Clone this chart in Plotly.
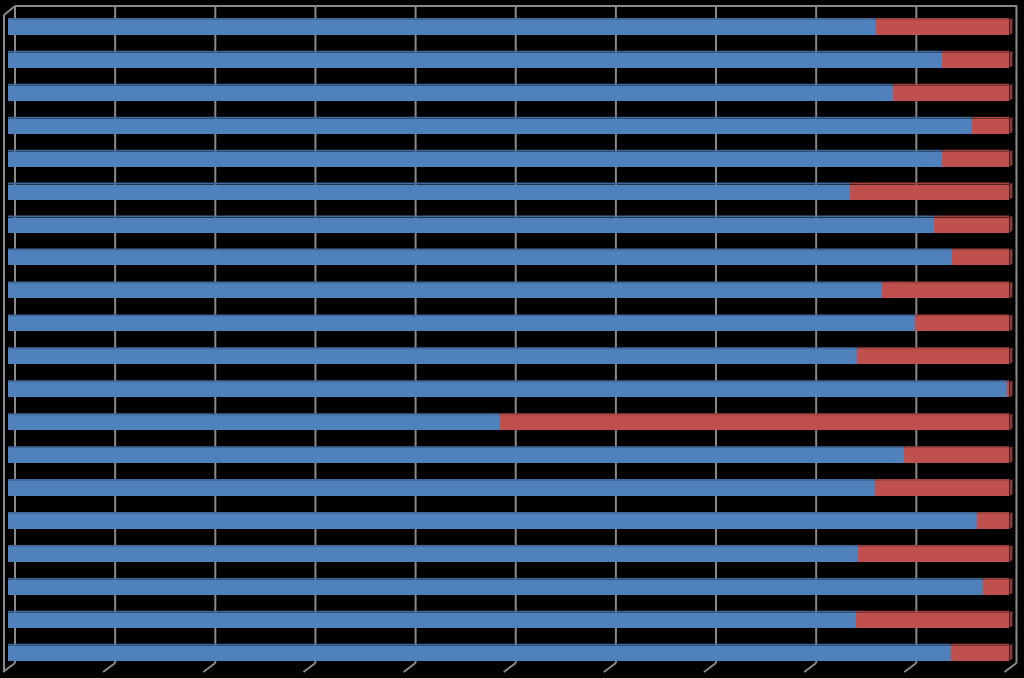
import plotly.graph_objects as go

# 20 rows, read top to bottom; share of each bar in percent
categories = [f"Item {i}" for i in range(1, 21)]
blue_share = [86.7, 93.3, 88.4, 96.3, 93.3, 84.1, 92.5, 94.3, 87.3, 90.6,
              84.8, 99.8, 49.1, 89.5, 86.6, 96.8, 84.9, 97.4, 84.7, 94.2]
red_share = [round(100 - v, 1) for v in blue_share]
grid_ticks = [0, 10, 20, 30, 40, 50, 60, 70, 80, 90, 100]

W, H = 1024, 678
BLUE = "#4F81BD"
RED = "#C0504D"
BLUE_TOP = "#40699c"
RED_TOP = "#a04340"
RED_SIDE = "#8e3a38"
GRID = "#8a8a8a"
BARGAP = 0.545
DEPTH = 7  # px shift of the back wall


def px_x(p):
    return p / W


def px_y(p):
    return 1 - p / H


fig = go.Figure()

fig.add_trace(go.Bar(
    y=categories, x=blue_share, orientation="h",
    marker=dict(color=BLUE, line=dict(width=0)),
    name="Series 1", hoverinfo="x+y"
))
fig.add_trace(go.Bar(
    y=categories, x=red_share, orientation="h",
    marker=dict(color=RED, line=dict(width=0)),
    name="Series 2", hoverinfo="x+y"
))

shapes = []
# back-wall gridlines, pushed right of the bar plane
for t in grid_ticks:
    shapes.append(dict(
        type="line", layer="below", xref="x", yref="paper",
        xsizemode="pixel", xanchor=t, x0=DEPTH, x1=DEPTH,
        y0=px_y(663), y1=px_y(6),
        line=dict(color=GRID, width=2)
    ))
    # little floor ticks
    shapes.append(dict(
        type="line", layer="below", xref="x", yref="paper",
        xsizemode="pixel", xanchor=t, x0=-5, x1=DEPTH,
        ysizemode="pixel", yanchor=px_y(672), y0=0, y1=9,
        line=dict(color=GRID, width=2)
    ))

# frame: top edge, front-left edge and corner
shapes.append(dict(type="line", layer="below", xref="paper", yref="paper",
                   x0=px_x(15), x1=px_x(1017), y0=px_y(6), y1=px_y(6),
                   line=dict(color=GRID, width=2)))
shapes.append(dict(type="line", layer="below", xref="paper", yref="paper",
                   x0=px_x(4), x1=px_x(4), y0=px_y(15), y1=px_y(671),
                   line=dict(color=GRID, width=2)))
shapes.append(dict(type="line", layer="below", xref="paper", yref="paper",
                   x0=px_x(4), x1=px_x(15), y0=px_y(15), y1=px_y(6),
                   line=dict(color=GRID, width=2)))

# a hint of 3D on each bar: darker top strip and right side face
half = (1 - BARGAP) / 2
for i, b in enumerate(blue_share):
    for x0, x1, col in [(0, b, BLUE_TOP), (b, 100, RED_TOP)]:
        if x1 - x0 <= 0:
            continue
        shapes.append(dict(
            type="rect", layer="above", xref="x", yref="y",
            x0=x0, x1=x1, y0=i - half - 0.06, y1=i - half,
            line=dict(width=0), fillcolor=col
        ))
    shapes.append(dict(
        type="path", layer="above", xref="x", yref="y",
        xsizemode="pixel", xanchor=100,
        path=f"M0,{i - half} L3,{i - half - 0.06} L3,{i + half - 0.06} L0,{i + half} Z",
        line=dict(width=0), fillcolor=RED_SIDE
    ))

fig.update_layout(
    width=W,
    height=H,
    barmode="stack",
    bargap=BARGAP,
    showlegend=False,
    paper_bgcolor="black",
    plot_bgcolor="rgba(0,0,0,0)",
    margin=dict(l=0, r=0, t=0, b=0),
    shapes=shapes,
    # domain covers the whole frame so nothing gets clipped;
    # 0 lands at x=8px and 100 at x=1009.5px
    xaxis=dict(domain=[px_x(2), px_x(1020)], range=[-0.599, 101.05],
               showgrid=False, zeroline=False, showticklabels=False,
               showline=False, ticks=""),
    yaxis=dict(domain=[px_y(674), px_y(4)], range=[19.63, -0.71],
               showgrid=False, zeroline=False, showticklabels=False,
               showline=False, ticks=""),
)

# drop the browser's default page margin so the chart sits at 0,0
fig.write_html(
    "out.html",
    config={"displayModeBar": False},
    post_script="document.body.style.margin='0';"
                "document.body.style.background='black';"
)
